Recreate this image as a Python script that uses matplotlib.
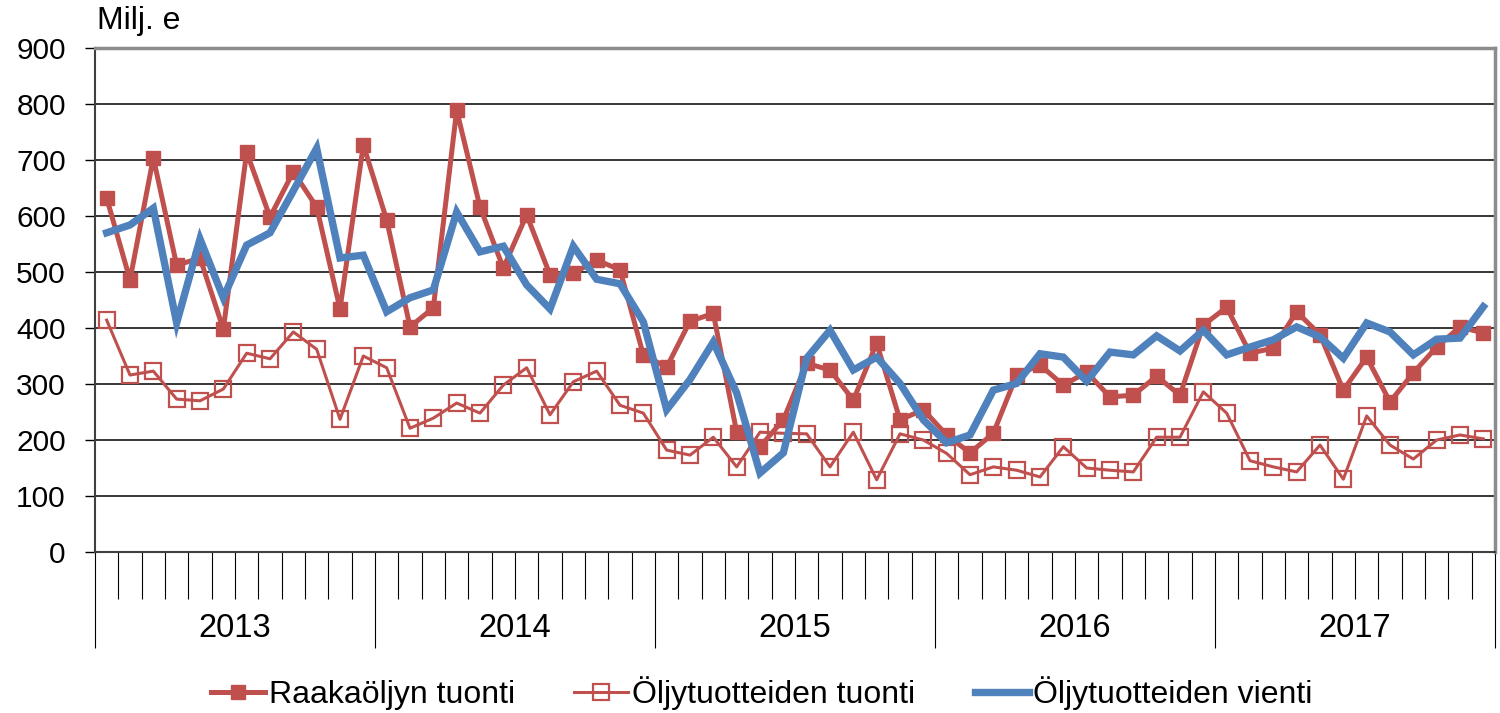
import matplotlib.pyplot as plt
import matplotlib.transforms as mtransforms
import numpy as np

plt.rcParams['font.family'] = ['Liberation Sans', 'DejaVu Sans']

# --- Data (Milj. e, monthly 2013-2017) ---
years = ["2013", "2014", "2015", "2016", "2017"]

raakaoljy_tuonti = [
    632, 486, 704, 512, 525, 398, 714, 598, 679, 616, 434, 727,
    593, 402, 436, 789, 616, 507, 602, 495, 498, 521, 504, 352,
    330, 412, 426, 214, 188, 236, 337, 325, 271, 373, 236, 254,
    209, 177, 212, 316, 334, 298, 321, 277, 280, 314, 280, 405,
    437, 355, 364, 429, 388, 289, 348, 268, 320, 366, 402, 391,
]
oljytuote_tuonti = [
    414, 316, 323, 273, 270, 291, 355, 345, 393, 362, 237, 350,
    329, 221, 239, 266, 248, 298, 329, 245, 304, 323, 262, 248,
    182, 173, 205, 152, 214, 212, 211, 152, 214, 129, 211, 200,
    176, 138, 152, 146, 134, 188, 150, 146, 143, 205, 205, 286,
    248, 163, 152, 143, 191, 130, 243, 191, 166, 200, 209, 202,
]
oljytuote_vienti = [
    570, 584, 614, 409, 559, 454, 548, 570, 645, 721, 525, 530,
    429, 454, 468, 607, 536, 546, 477, 434, 546, 487, 479, 411,
    254, 308, 375, 284, 141, 177, 346, 396, 325, 348, 301, 236,
    195, 209, 289, 301, 354, 348, 305, 357, 352, 386, 359, 396,
    352, 366, 379, 402, 384, 346, 409, 393, 352, 380, 382, 438,
]

RED = "#C0504D"
BLUE = "#4F81BD"


def main():
    n = len(raakaoljy_tuonti)
    x = np.arange(n) + 0.5

    fig = plt.figure(figsize=(15, 7.13), dpi=100)
    ax = fig.add_axes([95 / 1500, 161 / 713, 1400 / 1500, 504 / 713])

    ax.plot(x, raakaoljy_tuonti, color=RED, lw=3.6, marker="s", ms=10,
            mfc=RED, mec=RED, label="Raakaöljyn tuonti", zorder=3)
    ax.plot(x, oljytuote_tuonti, color=RED, lw=2.2, marker="s", ms=12,
            mfc="none", mec=RED, mew=1.6, label="Öljytuotteiden tuonti", zorder=3)
    ax.plot(x, oljytuote_vienti, color=BLUE, lw=5.3, solid_joinstyle="miter",
            label="Öljytuotteiden vienti", zorder=4)

    ax.set_xlim(0, n)
    ax.set_ylim(0, 900)
    ax.set_yticks(np.arange(0, 901, 100))
    ax.yaxis.grid(True, color="black", lw=1.1)
    ax.set_axisbelow(True)
    ax.tick_params(axis="y", labelsize=21.5, length=7, width=1, direction="out", pad=14)

    # month / year ticks below the axis
    ax.set_xticks(np.arange(0, n + 1, 12))
    ax.set_xticks([m for m in range(1, n) if m % 12], minor=True)
    ax.tick_params(axis="x", which="major", length=69, width=0.8, labelbottom=False)
    ax.tick_params(axis="x", which="minor", length=34, width=0.8)

    trans = mtransforms.blended_transform_factory(ax.transData, ax.transAxes)
    for i, yr in enumerate(years):
        ax.text(12 * i + 6, -0.152, yr, transform=trans, ha="center", va="center",
                fontsize=23.5)

    for side in ("left", "bottom"):
        ax.spines[side].set_color("#404040")
        ax.spines[side].set_linewidth(1.5)
    for side in ("top", "right"):
        ax.spines[side].set_color("#8C8C8C")
        ax.spines[side].set_linewidth(2.5)

    fig.text(97 / 1500, 1 - 21 / 713, "Milj. e", fontsize=23, ha="left", va="center")

    ax.legend(loc="center", bbox_to_anchor=(0.476, -0.28), ncol=3, frameon=False,
              fontsize=23, handlelength=1.7, handletextpad=0.12, columnspacing=1.85,
              borderpad=0, borderaxespad=0)

    fig.savefig("out.png", dpi=100)


if __name__ == "__main__":
    main()
